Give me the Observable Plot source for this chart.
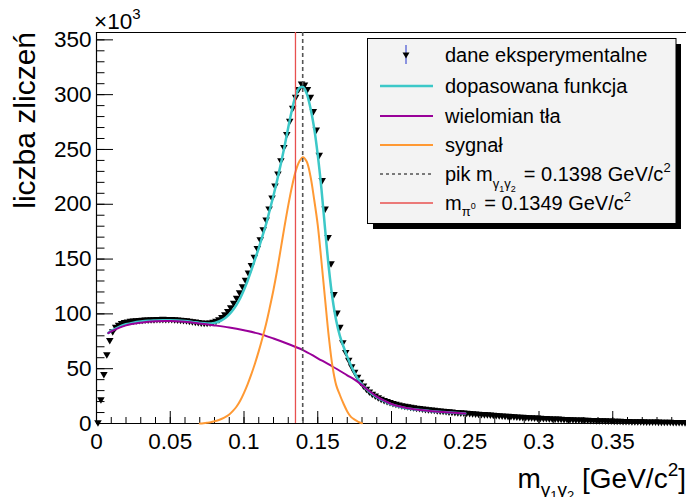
<!DOCTYPE html>
<html><head><meta charset="utf-8">
<script src="https://cdn.jsdelivr.net/npm/d3@7"></script>
<script src="https://cdn.jsdelivr.net/npm/@observablehq/plot@0.6"></script>
<style>
html,body{margin:0;padding:0;background:#fff;}
#chart{width:686px;height:497px;overflow:hidden;}
</style></head><body><div id="chart"></div>
<script>
// histogram: bin width 0.002 GeV/c^2, counts in thousands (x10^3)
const binWidth = 0.002;
const counts = [
  1, 22, 45, 63, 76, 84, 88, 90, 91.5, 92.5,
  93, 93.5, 93.8, 94, 94.3, 94.5, 94.7, 94.8, 95, 95,
  95.2, 95.2, 95.3, 95.2, 95.2, 95.1, 95, 94.8, 94.6, 94.3,
  94, 93.6, 93.2, 92.8, 92.4, 92, 91.8, 91.8, 92, 92.6,
  93.6, 95, 97, 99.5, 102.5, 106, 110, 114.5, 119.5, 125,
  131, 137.5, 144.5, 152, 160, 168, 177, 186, 196, 206,
  217, 228, 240, 252, 264, 276, 288, 298, 305, 310,
  309, 305, 298, 285, 268, 245, 222, 196, 170, 146,
  118, 101, 88, 74, 65, 58, 52, 47, 42.5, 38,
  34.5, 31.5, 29, 27, 25.3, 23.8, 22.5, 21.3, 20.3, 19.4,
  18.6, 17.9, 17.2, 16.6, 16.1, 15.6, 15.1, 14.7, 14.3, 13.9,
  13.5, 13.2, 12.9, 12.6, 12.3, 12.0, 11.7, 11.4, 11.2, 10.9,
  10.7, 10.4, 10.2, 10.0, 9.8, 9.6, 9.4, 9.2, 9.0, 8.8,
  8.6, 8.4, 8.2, 8.0, 7.8, 7.6, 7.4, 7.2, 7.0, 6.8,
  6.6, 6.4, 6.3, 6.1, 5.9, 5.8, 5.6, 5.5, 5.3, 5.2,
  5.0, 4.9, 4.8, 4.6, 4.5, 4.4, 4.3, 4.2, 4.0, 3.9,
  3.8, 3.7, 3.6, 3.5, 3.4, 3.3, 3.2, 3.1, 3.0, 2.9,
  2.85, 2.8, 2.7, 2.6, 2.5, 2.45, 2.4, 2.3, 2.2, 2.15,
  2.1, 2.0, 1.95, 1.9, 1.85, 1.8, 1.75, 1.7, 1.65, 1.6,
  1.55, 1.5, 1.45, 1.4, 1.35, 1.3, 1.25, 1.2, 1.15, 1.1
];

// fitted function (cyan)
const fitX = [0.008,0.010,0.015,0.020,0.025,0.030,0.035,0.040,0.045,0.050,0.055,0.060,0.065,0.070,0.075,0.080,0.0825,0.085,0.0875,0.090,0.0925,0.095,0.0975,0.100,0.1025,0.105,0.1075,0.110,0.1125,0.115,0.1175,0.120,0.1225,0.125,0.1275,0.130,0.1325,0.135,0.1375,0.140,0.1425,0.145,0.1475,0.150,0.1525,0.155,0.1575,0.160,0.1625,0.165,0.1675,0.170,0.1725,0.175,0.1775,0.180,0.185,0.190,0.195,0.200,0.205,0.210,0.215,0.220,0.225,0.230,0.235,0.240,0.245,0.250];
const fitY = [82.5,84.5,88,90.5,92,93,93.7,94,94.2,94.2,94,93.5,92.7,91.8,91.3,91.8,92.8,94.3,96.5,99.5,103.5,108.5,114.5,122,130.5,140,150,160,171,182,195,208,222,237,253,270,286,299,306,307,301,288,270,245,214,177,142,114,94,80,70,61,53,46,40,35.5,29,24,20.5,17.5,15.5,14,13,12.3,11.6,11,10.5,10,9.5,9.1];

// background polynomial (purple)
const bgX = [0.008,0.010,0.020,0.030,0.040,0.050,0.060,0.070,0.080,0.090,0.100,0.110,0.120,0.130,0.140,0.150,0.160,0.170,0.175,0.180,0.185,0.190,0.195,0.200,0.205,0.210,0.215,0.220,0.225,0.230,0.235,0.240,0.245,0.250];
const bgY = [82.5,84,89.5,92,93.3,93.5,92.8,91.3,89.5,87.5,85,82,77.5,72.5,67,59.5,52,44,40,35,29.5,24.5,20.8,17.8,15.7,14.2,13.1,12.3,11.6,11,10.5,10,9.5,9.1];

// signal (orange)
const sigX = [0.0700,0.0725,0.0750,0.0775,0.0800,0.0825,0.0850,0.0875,0.0900,0.0925,0.0950,0.0975,0.1000,0.1025,0.1050,0.1075,0.1100,0.1125,0.1150,0.1175,0.1200,0.1225,0.1250,0.1275,0.1300,0.1325,0.1350,0.1375,0.1400,0.1425,0.1450,0.1475,0.1500,0.1525,0.1550,0.1575,0.1600,0.1625,0.1650,0.1675,0.1700,0.1725,0.1750,0.1775,0.1800];
const sigY = [0,0.3,0.7,1.2,2.0,3.0,4.3,6.0,8.2,11.5,15.5,21,28,36,45,55,66,78,91,106,122,140,160,180,199,216,230,239,243,239,226,205,181,148,113,79,52,35,26,18,11,6,3.5,1.5,0.3];

// reference masses
const peakMass = 0.1398;
const pi0Mass = 0.1349;

// axis ticks
const xMajor = [0, 0.05, 0.1, 0.15, 0.2, 0.25, 0.3, 0.35];
const xMinor = d3.range(0, 40).map(i => i / 100);
const yMajor = [0, 50, 100, 150, 200, 250, 300, 350];
const yMinor = d3.range(0, 36).map(i => i * 10);

const xDomain = [0, 0.4];
const yDomain = [0, 356.7];

const FONT = "'Liberation Sans', Arial, Helvetica, sans-serif";

const hist = counts.map((c, i) => ({x: binWidth / 2 + i * binWidth, y: c}));
const fit = fitX.map((x, i) => ({x, y: fitY[i]}));
const bg = bgX.map((x, i) => ({x, y: bgY[i]}));
const sig = sigX.map((x, i) => ({x, y: sigY[i]}));

const plot = Plot.plot({
  width: 686, height: 497,
  marginLeft: 96, marginRight: 0, marginTop: 32, marginBottom: 74,
  style: {fontFamily: FONT, fontSize: "22.5px", color: "#000", background: "#fff", overflow: "visible"},
  x: {domain: xDomain, label: null},
  y: {domain: yDomain, label: null},
  marks: [
    Plot.ruleY([yDomain[1]], {stroke: "#000", strokeWidth: 1}),
    Plot.ruleX([0], {stroke: "#000", strokeWidth: 1.2}),
    Plot.ruleY([0], {stroke: "#000", strokeWidth: 1.2}),
    Plot.axisY(yMinor, {anchor: "left", tickSize: -8.5, tickFormat: () => "", stroke: "#000"}),
    Plot.axisY(yMajor, {anchor: "left", tickSize: -17, tickFormat: () => "", stroke: "#000"}),
    Plot.axisY(yMajor, {anchor: "left", tickSize: 0, tickPadding: 5, tickFormat: d => String(d), fontSize: 22.5, fill: "#000"}),
    Plot.axisX(xMinor, {anchor: "bottom", tickSize: -6, tickFormat: () => "", stroke: "#000"}),
    Plot.axisX(xMajor, {anchor: "bottom", tickSize: -12, tickFormat: () => "", stroke: "#000"}),
    Plot.axisX(xMajor, {anchor: "bottom", tickSize: 0, tickPadding: 10, tickFormat: d => String(d), fontSize: 22.5, fill: "#000"}),
    Plot.dot(hist, {x: "x", y: "y", symbol: "triangle", rotate: 180, r: 2.8, fill: "#000", stroke: "none"}),
    Plot.line(fit, {x: "x", y: "y", stroke: "#3cc8c8", strokeWidth: 2.5, curve: "catmull-rom"}),
    Plot.line(bg, {x: "x", y: "y", stroke: "#990099", strokeWidth: 2, curve: "catmull-rom"}),
    Plot.line(sig, {x: "x", y: "y", stroke: "#ff9933", strokeWidth: 2, curve: "catmull-rom"}),
    Plot.ruleX([pi0Mass], {stroke: "#e8504f", strokeWidth: 1.3}),
    Plot.ruleX([peakMass], {stroke: "#555", strokeWidth: 1.6, strokeDasharray: "4,3"})
  ]
});
document.getElementById("chart").appendChild(plot);

const svg = d3.select(plot);

// x10^3 multiplier
const mult = svg.append("text").attr("x", 94).attr("y", 29).attr("text-anchor", "start")
  .attr("font-family", FONT).attr("font-size", 22.5).attr("fill", "#000");
mult.append("tspan").text("\u00d710");
mult.append("tspan").attr("font-size", 15).attr("dy", -10).text("3");

// y title
svg.append("text")
  .attr("transform", "translate(35,32) rotate(-90)")
  .attr("text-anchor", "end")
  .attr("font-family", FONT).attr("font-size", 30).attr("fill", "#000")
  .text("liczba zlicze\u0144");

// x title
const xt = svg.append("text").attr("x", 686).attr("y", 488).attr("text-anchor", "end")
  .attr("font-family", FONT).attr("font-size", 28).attr("fill", "#000");
xt.append("tspan").text("m");
xt.append("tspan").attr("font-size", 19).attr("dy", 8).text("\u03b3");
xt.append("tspan").attr("font-size", 13).attr("dy", 4).text("1");
xt.append("tspan").attr("font-size", 19).attr("dy", -4).text("\u03b3");
xt.append("tspan").attr("font-size", 13).attr("dy", 4).text("2");
xt.append("tspan").attr("dy", -12).text(" [GeV/c");
xt.append("tspan").attr("font-size", 19).attr("dy", -12).text("2");
xt.append("tspan").attr("dy", 12).text("]");

// legend
const lg = svg.append("g").attr("font-family", FONT).attr("font-size", 20).attr("fill", "#000").attr("text-anchor", "start");
lg.append("rect").attr("x", 373).attr("y", 44).attr("width", 308).attr("height", 185).attr("fill", "#000");
lg.append("rect").attr("x", 367.5).attr("y", 38.5).attr("width", 308.5).attr("height", 185).attr("fill", "#f3f3f3").attr("stroke", "#000").attr("stroke-width", 1);

const rowY = [55, 86, 116, 145, 174, 203];
const tx = 445;
// row 1: data marker
lg.append("line").attr("x1", 406).attr("x2", 406).attr("y1", 45).attr("y2", 64).attr("stroke", "#2233cc").attr("stroke-width", 1);
lg.append("path").attr("d", "M402.5,52.5L409.5,52.5L406,58.5Z").attr("fill", "#000");
lg.append("text").attr("x", tx).attr("y", rowY[0]).attr("dy", "0.35em").text("dane eksperymentalne");
// rows 2-4: lines
const lineRows = [["#3cc8c8", 2.5, "dopasowana funkcja"], ["#990099", 2, "wielomian t\u0142a"], ["#ff9933", 2, "sygna\u0142"]];
lineRows.forEach(([c, w, t], i) => {
  const y = rowY[i + 1];
  lg.append("line").attr("x1", 380).attr("x2", 433).attr("y1", y).attr("y2", y).attr("stroke", c).attr("stroke-width", w);
  lg.append("text").attr("x", tx).attr("y", y).attr("dy", "0.35em").text(t);
});
// row 5: dashed peak
lg.append("line").attr("x1", 380).attr("x2", 433).attr("y1", rowY[4]).attr("y2", rowY[4]).attr("stroke", "#000").attr("stroke-width", 1).attr("stroke-dasharray", "3,3");
const t5 = lg.append("text").attr("x", tx).attr("y", rowY[4]).attr("dy", "0.35em");
t5.append("tspan").text("pik m");
t5.append("tspan").attr("font-size", 13).attr("dy", 7).text("\u03b3");
t5.append("tspan").attr("font-size", 9).attr("dy", 4).text("1");
t5.append("tspan").attr("font-size", 13).attr("dy", -4).text("\u03b3");
t5.append("tspan").attr("font-size", 9).attr("dy", 4).text("2");
t5.append("tspan").attr("dy", -11).attr("dx", 8).text("= 0.1398 GeV/c");
t5.append("tspan").attr("font-size", 13).attr("dy", -9).text("2");
// row 6: pi0 mass
lg.append("line").attr("x1", 380).attr("x2", 433).attr("y1", rowY[5]).attr("y2", rowY[5]).attr("stroke", "#e8504f").attr("stroke-width", 1.3);
const t6 = lg.append("text").attr("x", tx).attr("y", rowY[5]).attr("dy", "0.35em");
t6.append("tspan").text("m");
t6.append("tspan").attr("font-size", 13).attr("dy", 6).text("\u03c0");
t6.append("tspan").attr("font-size", 9).attr("dy", -7).text("0");
t6.append("tspan").attr("dy", 1).attr("dx", 3).text(" = 0.1349 GeV/c");
t6.append("tspan").attr("font-size", 13).attr("dy", -9).text("2");
</script>
</body></html>
